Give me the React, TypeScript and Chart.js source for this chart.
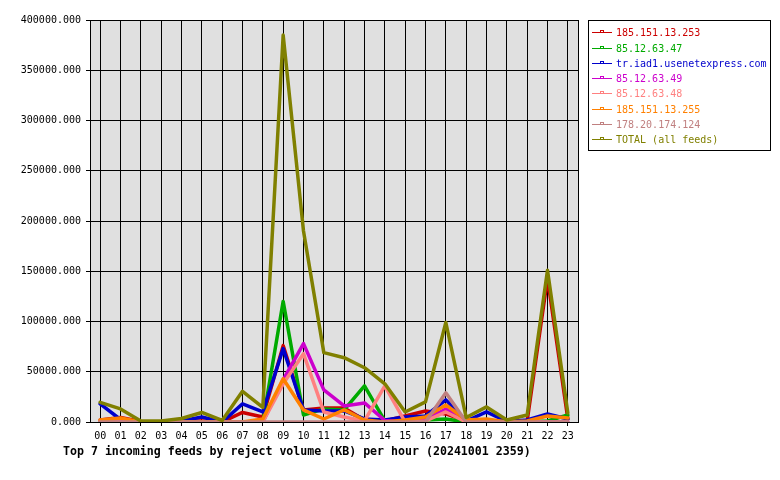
import React, { useEffect, useRef } from "react";
import { Chart, registerables } from "chart.js";

Chart.register(...registerables);

const hours = ["00","01","02","03","04","05","06","07","08","09","10","11","12","13","14","15","16","17","18","19","20","21","22","23"];

const feedNames = [
  "185.151.13.253",
  "85.12.63.47",
  "tr.iad1.usenetexpress.com",
  "85.12.63.49",
  "85.12.63.48",
  "185.151.13.255",
  "178.20.174.124",
  "TOTAL (all feeds)",
];

const feedColors = ["#cc0000", "#00aa00", "#0000cc", "#cc00cc", "#ff8080", "#ff8000", "#c08080", "#808000"];

const red253 = [2000, 4500, 500, 0, 500, 1000, 0, 9500, 5000, 76000, 12000, 14000, 14000, 2000, 1000, 6000, 11000, 8000, 1000, 2000, 0, 1000, 143000, 3000];
const green47 = [0, 0, 0, 0, 0, 0, 0, 0, 0, 120000, 7000, 13000, 12000, 36000, 1000, 0, 2000, 3000, 0, 0, 0, 0, 1000, 7000];
const blueUsenet = [18000, 2500, 0, 0, 1000, 5000, 0, 18000, 10000, 73000, 12000, 11000, 11000, 3000, 2000, 5000, 6000, 22000, 1000, 10000, 500, 2000, 8000, 3000];
const magenta49 = [0, 0, 0, 0, 0, 0, 0, 0, 0, 42000, 78000, 32000, 16000, 19000, 1500, 0, 2000, 13000, 0, 0, 0, 0, 0, 0];
const salmon48 = [0, 0, 0, 0, 0, 0, 0, 0, 0, 38000, 68000, 10000, 5000, 1000, 36000, 0, 1000, 10000, 0, 0, 0, 0, 0, 0];
const orange255 = [2000, 4000, 0, 0, 0, 0, 0, 0, 3000, 43000, 12000, 3000, 12000, 2000, 0, 2000, 5000, 17000, 2000, 3000, 0, 1000, 6000, 4000];
const rosy124 = [0, 0, 0, 0, 0, 0, 0, 0, 0, 0, 0, 0, 0, 0, 0, 0, 0, 29000, 0, 0, 0, 0, 0, 0];
const totalAll = [19500, 13000, 1000, 1000, 3500, 9500, 1500, 30500, 14500, 385000, 190000, 69000, 64000, 54000, 38000, 10000, 20000, 99000, 4500, 15000, 2000, 7000, 151000, 9000];

const seriesValues = [red253, green47, blueUsenet, magenta49, salmon48, orange255, rosy124, totalAll];

const yTickMax = 400000;
const yTickStep = 50000;

const titleText = "Top 7 incoming feeds by reject volume (KB) per hour (20241001 2359)";

const MONO = '"DejaVu Sans Mono", "Liberation Mono", monospace';

const decorPlugin = {
  id: "decor",
  beforeDraw(chart: any) {
    const { ctx, chartArea } = chart;
    ctx.save();
    ctx.fillStyle = "#ffffff";
    ctx.fillRect(0, 0, chart.width, chart.height);
    ctx.fillStyle = "#e0e0e0";
    ctx.fillRect(chartArea.left, chartArea.top, chartArea.right - chartArea.left, chartArea.bottom - chartArea.top);
    ctx.restore();
  },
  beforeDatasetsDraw(chart: any) {
    const { ctx, chartArea } = chart;
    ctx.save();
    ctx.strokeStyle = "#000000";
    ctx.lineWidth = 1;
    ctx.strokeRect(Math.round(chartArea.left) + 0.5, Math.round(chartArea.top) + 0.5, Math.round(chartArea.right - chartArea.left), Math.round(chartArea.bottom - chartArea.top));
    ctx.restore();
  },
  afterDraw(chart: any) {
    const { ctx, chartArea } = chart;
    ctx.save();
    const lx = Math.round(chartArea.right) + 10;
    const ly = Math.round(chartArea.top);
    const lw = 182;
    const lh = 130;
    ctx.fillStyle = "#ffffff";
    ctx.fillRect(lx, ly, lw, lh);
    ctx.strokeStyle = "#000000";
    ctx.lineWidth = 1;
    ctx.strokeRect(lx + 0.5, ly + 0.5, lw, lh);
    ctx.font = "10px " + MONO;
    ctx.textBaseline = "middle";
    ctx.textAlign = "left";
    feedNames.forEach((name, i) => {
      const cy = Math.round(ly + 12.3 + i * 15.25);
      const col = feedColors[i];
      ctx.strokeStyle = col;
      ctx.lineWidth = 1;
      ctx.beginPath();
      ctx.moveTo(lx + 4, cy + 0.5);
      ctx.lineTo(lx + 24, cy + 0.5);
      ctx.stroke();
      ctx.strokeRect(lx + 12.5, cy - 1.5, 3, 2);
      ctx.fillStyle = col;
      ctx.fillText(name, lx + 28, cy + 1);
    });
    ctx.fillStyle = "#000000";
    ctx.font = "bold 11.6px " + MONO;
    ctx.textBaseline = "middle";
    ctx.fillText(titleText, 63, 452);
    ctx.restore();
  },
};

export default function App() {
  const canvasRef = useRef<HTMLCanvasElement | null>(null);

  useEffect(() => {
    if (!canvasRef.current) return;
    const datasets = feedNames.map((name, i) => ({
      label: name,
      data: seriesValues[i],
      borderColor: feedColors[i],
      backgroundColor: feedColors[i],
      borderWidth: 3.5,
      borderJoinStyle: "round",
      borderCapStyle: "round",
      pointRadius: 0,
      tension: 0,
      fill: false,
      order: feedNames.length - i,
    }));
    const chart = new Chart(canvasRef.current, {
      type: "line",
      data: { labels: hours, datasets },
      options: {
        animation: false,
        responsive: false,
        maintainAspectRatio: false,
        layout: { padding: { left: 0, top: 20, right: 202, bottom: 0 } },
        plugins: {
          legend: { display: false },
          title: { display: false },
          tooltip: { enabled: false },
        },
        scales: {
          x: {
            type: "category",
            offset: true,
            grid: { color: "#000000", lineWidth: 1, tickLength: 4, offset: false },
            border: { color: "#000000" },
            ticks: {
              color: "#000000",
              font: { family: MONO, size: 10 },
              autoSkip: false,
              maxRotation: 0,
              padding: 4,
            },
            afterFit(scale: any) {
              scale.height = 58;
            },
          },
          y: {
            min: 0,
            max: yTickMax,
            grid: { color: "#000000", lineWidth: 1, tickLength: 4 },
            border: { color: "#000000" },
            ticks: {
              stepSize: yTickStep,
              color: "#000000",
              font: { family: MONO, size: 10 },
              padding: 5,
              callback: (v: any) => Number(v).toFixed(3),
            },
            afterFit(scale: any) {
              scale.width = 90;
            },
          },
        },
      },
      plugins: [decorPlugin],
    } as any);
    return () => chart.destroy();
  }, []);

  return (
    <div style={{ position: "fixed", left: 0, top: 0, width: 780, height: 480, background: "#ffffff" }}>
      <canvas ref={canvasRef} width={780} height={480} style={{ display: "block", width: 780, height: 480 }} />
    </div>
  );
}
